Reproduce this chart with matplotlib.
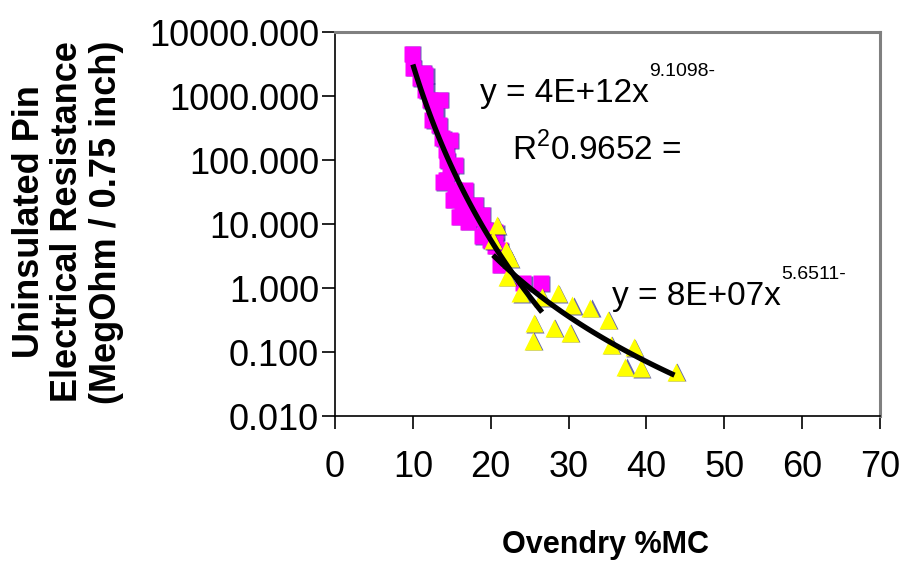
import matplotlib
matplotlib.use("Agg")
import matplotlib.pyplot as plt
import numpy as np
from matplotlib.ticker import FixedLocator, FuncFormatter, NullLocator
from matplotlib.transforms import offset_copy

plt.rcParams["font.family"] = ["Liberation Sans", "DejaVu Sans"]
plt.rcParams["mathtext.fontset"] = "custom"
plt.rcParams["mathtext.rm"] = "Liberation Sans"

# Pin resistance readings, low-MC group (squares) and high-MC group (triangles)
mag_mc = [9.9, 10.0, 10.9, 11.3, 11.6, 11.6, 12.2, 12.9, 13.5, 12.5, 13.3, 13.8,
          14.8, 14.2, 14.4, 14.8, 15.4, 14.2, 13.9, 15.4, 16.7, 15.1, 16.3, 15.9,
          18.0, 17.4, 17.1, 18.9, 18.4, 19.3, 18.9, 20.6, 19.9, 20.5, 21.2, 21.2,
          24.2, 26.4]
mag_r = [4600, 2750, 1910, 2300, 2130, 1230, 860, 560, 870, 420, 350, 220,
         205, 143, 100, 65, 83, 49, 45, 34, 34, 24, 20, 13,
         20, 15.4, 10.8, 14, 12.4, 8.1, 6.5, 7.5, 5.6, 4.6, 3.9, 2.3,
         1.2, 1.2]

yel_mc = [20.8, 20.3, 21.9, 22.5, 22.1, 23.8, 25.5, 25.4, 26.6, 28.6, 28.1, 30.5,
          30.2, 32.8, 35.1, 35.4, 38.4, 37.3, 39.3, 43.8]
yel_r = [9.6, 5.6, 3.9, 2.9, 1.5, 0.83, 0.28, 0.15, 0.72, 0.83, 0.24, 0.54,
         0.20, 0.49, 0.32, 0.13, 0.12, 0.059, 0.056, 0.049]

# Power-law fits y = a * x^-b
fit1_a, fit1_b, fit1_r2 = 4e12, 9.1098, 0.9652
fit1_range = (10.0, 26.6)
fit2_a, fit2_b = 8e7, 5.6511
fit2_range = (20.3, 43.6)

x_ticks = [0, 10, 20, 30, 40, 50, 60, 70]
y_ticks = [0.01, 0.1, 1, 10, 100, 1000, 10000]

W, H = 899, 564
fig = plt.figure(figsize=(W / 100, H / 100), dpi=100)
ax = fig.add_axes([335 / W, (H - 416) / H, 545 / W, 384 / H])

ax.set_yscale("log")
ax.set_xlim(0, 70)
ax.set_ylim(0.01, 10000)
ax.xaxis.set_major_locator(FixedLocator(x_ticks))
ax.yaxis.set_major_locator(FixedLocator(y_ticks))
ax.yaxis.set_minor_locator(NullLocator())
ax.yaxis.set_major_formatter(FuncFormatter(lambda v, p: f"{v:.3f}"))

# small navy shadow behind each marker
shadow = offset_copy(ax.transData, fig=fig, x=1.2, y=-0.6, units="dots")
ax.plot(mag_mc, mag_r, "s", ms=11, color="#000080", alpha=0.6, mec="none",
        transform=shadow)
ax.plot(mag_mc, mag_r, "s", ms=11, color="#ff00ff", mec="none")
ax.plot(yel_mc, yel_r, "^", ms=13, color="#000080", alpha=0.6, mec="none",
        transform=shadow)
ax.plot(yel_mc, yel_r, "^", ms=13, color="#ffff00", mec="none")

x1 = np.linspace(*fit1_range, 100)
ax.plot(x1, fit1_a * x1 ** -fit1_b, color="black", lw=3.8, solid_capstyle="butt")
x2 = np.linspace(*fit2_range, 100)
ax.plot(x2, fit2_a * x2 ** -fit2_b, color="black", lw=3.8, solid_capstyle="butt")

for side in ["top", "right"]:
    ax.spines[side].set_color("#808080")
    ax.spines[side].set_linewidth(2.2)
for side in ["left", "bottom"]:
    ax.spines[side].set_color("black")
    ax.spines[side].set_linewidth(1.2)

ax.tick_params(axis="both", direction="out", length=9.5, width=1.2,
               labelsize=26, color="black")
ax.tick_params(axis="y", pad=2)
ax.tick_params(axis="x", pad=15)


def power_label(x, y, base, exp):
    t = ax.text(x, y, base, transform=ax.transAxes, fontsize=24,
                ha="left", va="baseline")
    ax.annotate(exp, xy=(1, 0), xycoords=t, xytext=(0.5, 24),
                textcoords="offset points", fontsize=14, ha="left", va="baseline")


power_label(0.266, 0.818, "y = 4E+12x", f"{fit1_b:.4f}-")
ax.text(0.325, 0.667, r"R$^{\mathregular{2}}$" + f"{fit1_r2:.4f} =",
        transform=ax.transAxes, fontsize=24, ha="left", va="baseline")
power_label(0.508, 0.289, "y = 8E+07x", f"{fit2_b:.4f}-")

fig.text(605 / W, 1 - 545 / H, "Ovendry %MC", fontsize=22, fontweight="bold",
         ha="center", va="center")
fig.text(68 / W, 1 - 222 / H,
         "Uninsulated Pin\nElectrical Resistance\n(MegOhm / 0.75 inch)",
         fontsize=26, fontweight="bold", rotation=90, ha="center", va="center",
         multialignment="center", linespacing=1.12)

fig.savefig("out.png", dpi=100)
